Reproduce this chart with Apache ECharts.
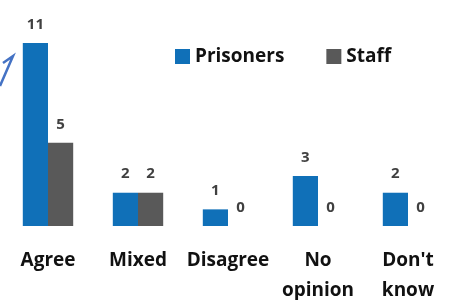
<!DOCTYPE html>
<html><head><meta charset="utf-8">
<script src="https://cdn.jsdelivr.net/npm/echarts@6/dist/echarts.min.js"></script>
<style>html,body{margin:0;padding:0;background:#fff}#c{width:453px;height:300px}</style>
</head><body><div id="c"></div>
<script>
var categories = ['Agree', 'Mixed', 'Disagree', 'No\nopinion', "Don't\nknow"];
var prisoners = [11, 2, 1, 3, 2];
var staff = [5, 2, 0, 0, 0];
var seriesNames = ['Prisoners', 'Staff'];

var chart = echarts.init(document.getElementById('c'));
var FONT = '"Open Sans"';
var lbl = {show: true, position: 'top', distance: 11, color: '#404040', fontFamily: FONT, fontWeight: 'bold', fontSize: 15};
chart.setOption({
  animation: false,
  grid: {left: 3, right: 0, top: 43, bottom: 74, containLabel: false, outerBoundsMode: 'none'},
  legend: {
    data: seriesNames, top: 42, left: 170, itemWidth: 15, itemHeight: 15, itemGap: 42,
    icon: 'rect',
    textStyle: {fontFamily: FONT, fontWeight: 'bold', fontSize: 19, color: '#111'}
  },
  xAxis: {
    type: 'category', data: categories,
    axisLine: {show: false}, axisTick: {show: false},
    axisLabel: {margin: 20, fontFamily: FONT, fontWeight: 'bold', fontSize: 19, color: '#111', lineHeight: 30, interval: 0}
  },
  yAxis: {type: 'value', min: 0, max: 11, show: false, splitLine: {show: false}},
  series: [
    {name: seriesNames[0], type: 'bar', data: prisoners, barGap: '0%', barCategoryGap: '44%',
     itemStyle: {color: '#1070b8'}, label: lbl},
    {name: seriesNames[1], type: 'bar', data: staff,
     itemStyle: {color: '#595959'}, label: lbl}
  ],
  graphic: [
    {type: 'polyline', shape: {points: [[0, 86], [13, 56], [3, 63]]},
     style: {stroke: '#4472c4', lineWidth: 2.5, fill: null}}
  ]
});
</script></body></html>
